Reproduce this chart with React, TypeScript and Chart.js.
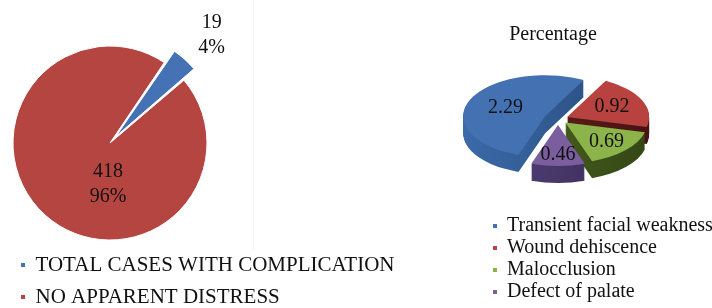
import React, { useEffect, useRef } from 'react';
import { Chart, registerables } from 'chart.js';

Chart.register(...registerables);

// ---- data ----
const outcomeLabels = ['TOTAL CASES WITH COMPLICATION', 'NO APPARENT DISTRESS'];
const outcomeCounts = [19, 418];

const complicationTitle = 'Percentage';
const complicationLabels = ['Transient facial weakness', 'Wound dehiscence', 'Malocclusion', 'Defect of palate'];
const complicationValues = [2.29, 0.92, 0.69, 0.46];

// ---- styles ----
const FONT = '"Liberation Serif", "Times New Roman", serif';
const FS = 20;
const outcomeColors = ['#4472B4', '#B54541'];
const complicationColors = ['#4371B1', '#B8423F', '#8DB44A', '#7B5E9E'];
const sideLight = ['#3B6AA8', '#6A2220', '#4F6A22', '#55417A'];
const sideDark = ['#284C7C', '#461412', '#344615', '#392B55'];

const legendNoBorder = (chart: any) =>
  (Chart as any).overrides.doughnut.plugins.legend.labels
    .generateLabels(chart)
    .map((l: any) => ({ ...l, lineWidth: 0 }));

// Places the pie horizontally independent of the legend (Excel-like free layout)
const placeArea = {
  id: 'placeArea',
  afterLayout(chart: any, _args: any, opts: any) {
    const ca = chart.chartArea;
    if (opts.cx !== undefined) {
      const half = opts.half;
      ca.left = opts.cx - half;
      ca.right = opts.cx + half;
      ca.width = 2 * half;
    }
    if (chart.legend && opts.legendLeft !== undefined) {
      chart.legend.left = opts.legendLeft;
      chart.legend.right = opts.legendRight;
      chart.legend.width = opts.legendRight - opts.legendLeft;
    }
  },
};

const outcomeLabelPlugin = {
  id: 'outcomeLabels',
  afterDatasetsDraw(chart: any) {
    const ctx = chart.ctx;
    const meta = chart.getDatasetMeta(0);
    const total = outcomeCounts.reduce((a, b) => a + b, 0);
    ctx.save();
    ctx.font = `${FS}px ${FONT}`;
    ctx.fillStyle = '#111';
    ctx.textAlign = 'center';
    ctx.textBaseline = 'middle';
    meta.data.forEach((el: any, i: number) => {
      const p = el.getProps(['x', 'y', 'startAngle', 'endAngle', 'outerRadius']);
      const mid = (p.startAngle + p.endAngle) / 2 + 0.025;
      let px: number;
      let py: number;
      if (i === 0) {
        px = p.x + Math.cos(mid) * p.outerRadius * 1.53;
        py = p.y + Math.sin(mid) * p.outerRadius * 1.53;
      } else {
        px = p.x - 2;
        py = p.y + p.outerRadius * 0.43;
      }
      const pct = Math.round((outcomeCounts[i] / total) * 100) + '%';
      ctx.fillText(String(outcomeCounts[i]), px, py - 12.5);
      ctx.fillText(pct, px, py + 12.5);
    });
    ctx.restore();
  },
};

const K = 0.5; // vertical squash of the tilted pie
const DEPTH = 17;
const LIFT = 12.5;

const pie3dPlugin = {
  id: 'pie3d',
  beforeDatasetDraw(chart: any, args: any) {
    const ctx = chart.ctx;
    const meta = args.meta;
    const ds = chart.data.datasets[args.index];
    const items = meta.data.map((el: any, i: number) => {
      const p = el.getProps(['x', 'y', 'startAngle', 'endAngle', 'outerRadius']);
      const off = el.options.offset || 0;
      const mid = (p.startAngle + p.endAngle) / 2;
      return { ...p, off, mid, i };
    });
    const sorted = [...items].sort((a: any, b: any) => Math.sin(a.mid) - Math.sin(b.mid));
    ctx.save();
    sorted.forEach((s: any) => {
      const cx = s.x + Math.cos(s.mid) * s.off;
      const cy = s.y - LIFT + Math.sin(s.mid) * s.off * K;
      const path = (dy: number) => {
        ctx.beginPath();
        ctx.moveTo(cx, cy + dy);
        ctx.ellipse(cx, cy + dy, s.outerRadius, s.outerRadius * K, 0, s.startAngle, s.endAngle);
        ctx.closePath();
      };
      const g = ctx.createLinearGradient(cx - s.outerRadius, 0, cx + s.outerRadius, 0);
      g.addColorStop(0, sideLight[s.i]);
      g.addColorStop(1, sideDark[s.i]);
      ctx.fillStyle = g;
      for (let d = DEPTH; d > 0; d--) {
        path(d);
        ctx.fill();
      }
      ctx.fillStyle = ds.backgroundColor[s.i];
      path(0);
      ctx.fill();
    });
    ctx.restore();
    return false;
  },
  afterDatasetsDraw(chart: any) {
    const ctx = chart.ctx;
    const meta = chart.getDatasetMeta(0);
    ctx.save();
    ctx.font = `${FS}px ${FONT}`;
    ctx.fillStyle = '#111';
    ctx.textAlign = 'center';
    ctx.textBaseline = 'middle';
    meta.data.forEach((el: any, i: number) => {
      const p = el.getProps(['x', 'y', 'startAngle', 'endAngle', 'outerRadius']);
      const off = el.options.offset || 0;
      const mid = (p.startAngle + p.endAngle) / 2;
      const c = Math.cos(mid);
      const sn = Math.sin(mid);
      const f = 0.6 + 0.12 * Math.max(0, sn) - 0.08 * Math.max(0, -c);
      const r = p.outerRadius * f + off;
      const px = p.x + c * r;
      const py = p.y - LIFT + sn * r * K;
      ctx.fillText(complicationValues[i].toFixed(2), px, py);
    });
    ctx.restore();
  },
};

export default function App() {
  const leftRef = useRef<HTMLCanvasElement>(null);
  const rightRef = useRef<HTMLCanvasElement>(null);

  useEffect(() => {
    const left = new Chart(leftRef.current as HTMLCanvasElement, {
      type: 'pie',
      data: {
        labels: outcomeLabels,
        datasets: [
          {
            data: outcomeCounts,
            backgroundColor: outcomeColors,
            borderColor: '#ffffff',
            borderWidth: 1,
            offset: [35, 0],
            clip: false as any,
          },
        ],
      },
      options: {
        animation: false,
        responsive: false,
        events: [],
        rotation: 34,
        radius: 97,
        layout: { padding: { top: 42.5, bottom: -9.5, left: 10, right: 0 } },
        plugins: {
          tooltip: { enabled: false },
          placeArea: { cx: 110, half: 100 },
          legend: {
            position: 'bottom',
            align: 'start',
            labels: {
              font: { family: FONT, size: 21 },
              color: '#111',
              boxWidth: 4,
              boxHeight: 4,
              padding: 11,
              generateLabels: legendNoBorder,
            },
          },
        },
      } as any,
      plugins: [placeArea, outcomeLabelPlugin],
    });

    const right = new Chart(rightRef.current as HTMLCanvasElement, {
      type: 'pie',
      data: {
        labels: complicationLabels,
        datasets: [
          {
            data: complicationValues,
            backgroundColor: complicationColors,
            borderWidth: 0,
            offset: [14, 10, 10, 12],
            clip: false as any,
          },
        ],
      },
      options: {
        animation: false,
        responsive: false,
        events: [],
        rotation: 199,
        radius: 82,
        layout: { padding: { top: 0, bottom: -4, left: 0, right: 36 } },
        plugins: {
          tooltip: { enabled: false },
          placeArea: { cx: 128, half: 100, legendLeft: 61, legendRight: 282 },
          title: {
            display: true,
            text: complicationTitle,
            color: '#111',
            font: { family: FONT, size: FS, weight: 'normal' },
            padding: { top: 23, bottom: 2 },
          },
          legend: {
            position: 'bottom',
            align: 'start',
            labels: {
              font: { family: FONT, size: FS },
              color: '#111',
              boxWidth: 4,
              boxHeight: 4,
              padding: 2,
              generateLabels: legendNoBorder,
            },
          },
        },
      } as any,
      plugins: [placeArea, pie3dPlugin],
    });

    return () => {
      left.destroy();
      right.destroy();
    };
  }, []);

  return (
    <div style={{ position: 'fixed', left: 0, top: 0, width: 712, height: 308, background: '#fff', overflow: 'hidden' }}>
      <div style={{ position: 'absolute', left: 253, top: 0, width: 1, height: 250, background: '#f3f3f3' }} />
      <canvas ref={leftRef} width={430} height={308} style={{ position: 'absolute', left: 0, top: 0 }} />
      <canvas ref={rightRef} width={282} height={308} style={{ position: 'absolute', left: 430, top: 0 }} />
    </div>
  );
}
